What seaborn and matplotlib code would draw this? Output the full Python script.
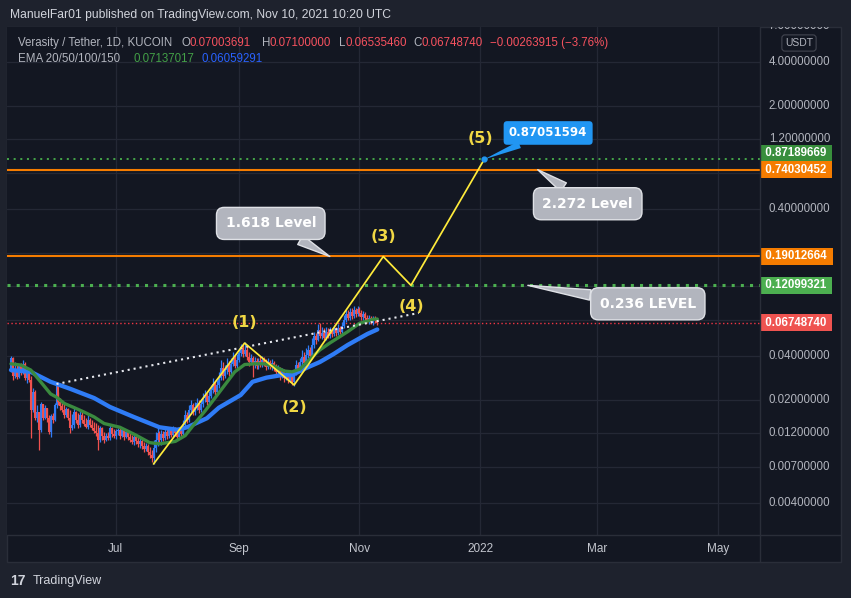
import numpy as np
import pandas as pd
import matplotlib
matplotlib.use("Agg")
import matplotlib.pyplot as plt
from matplotlib.ticker import FixedLocator, NullLocator
from matplotlib.patches import Rectangle
from matplotlib.lines import Line2D
import seaborn as sns

# === daily candles VRA/USDT (KuCoin) ===
start_date = "2021-05-09"
first_open = 0.0321
closes = [
    .03877, .02924, .03213, .02879, .03420, .03114, .03529, .02834, .03114, .02747,
    .01717, .02276, .01515, .01664, .01255, .01886, .01515, .01772, .01515, .01217,
    .01563, .01468, .01857, .02501, .01946, .01828, .01717, .01588, .01744, .01515,
    .01295, .01358, .01664, .01468, .01358, .01588, .01468, .01379, .01316, .01468,
    .01358, .01295, .01236, .01198, .01073, .01295, .01143, .01073, .01143, .01108,
    .01295, .01179, .01143, .01236, .01255, .01143, .01255, .01125, .01217, .01125,
    .01073, .01040, .01125, .01057, .01008, .01057, .00977, .00932, .00977, .00890,
    .00849, .00810, .00947, .01073, .01198, .01073, .01179, .01108, .01217, .01143,
    .01255, .01161, .01275, .01198, .01125, .01236, .01179, .01358, .01588, .01468,
    .01717, .01857, .01664, .01800, .01916, .01717, .01886, .02072, .02172, .01946,
    .02138, .02349, .02580, .02276, .02540, .02834, .03315, .02924, .03213, .03474,
    .03114, .03529, .03877, .03420, .03757, .04193, .04534, .04127, .04394, .03938,
    .03641, .03877, .03474, .03699, .03420, .03699, .03529, .03757, .03585, .03367,
    .03641, .03420, .03585, .03315, .03114, .03315, .02971, .03163, .02834, .03017,
    .02747, .02879, .02662, .03114, .03474, .03213, .03641, .03938, .03585, .04063,
    .04394, .04000, .04752, .05471, .05139, .06011, .05471, .05735, .05303, .05825,
    .05471, .05917, .05646, .06106, .05735, .06202, .05825, .06399, .07030, .07723,
    .07254, .07969, .07485, .08222, .07723, .08352, .07845, .07368, .07723, .07254,
    .06921, .07254, .06813, .07141, .07004, .06749,
]
highs = [
    .04000, .03938, .03641, .03474, .03529, .03585, .03757, .03641, .03315, .03213,
    .02924, .02423, .02349, .01857, .01664, .01946, .01886, .01857, .01772, .01588,
    .01613, .01638, .01916, .02621, .02276, .02072, .02008, .01946, .01800, .01772,
    .01717, .01613, .01772, .01690, .01638, .01717, .01664, .01588, .01515, .01588,
    .01515, .01468, .01423, .01401, .01358, .01336, .01316, .01217, .01198, .01217,
    .01358, .01316, .01275, .01275, .01295, .01295, .01295, .01275, .01275, .01255,
    .01198, .01161, .01179, .01161, .01125, .01108, .01090, .01040, .01024, .01008,
    .00962, .00918, .01073, .01217, .01295, .01236, .01255, .01236, .01295, .01275,
    .01316, .01295, .01336, .01316, .01255, .01295, .01275, .01468, .01717, .01664,
    .01857, .02008, .01916, .01946, .02072, .02008, .02040, .02241, .02349, .02241,
    .02312, .02540, .02834, .02704, .02747, .03114, .03757, .03641, .03474, .03877,
    .03699, .03877, .04259, .04063, .04127, .04534, .04827, .04752, .04981, .04678,
    .04259, .04127, .04000, .03938, .03877, .03877, .04000, .04000, .03938, .03816,
    .03877, .03757, .03816, .03699, .03529, .03474, .03367, .03315, .03263, .03213,
    .03114, .03065, .02971, .03213, .03757, .03641, .03877, .04394, .04259, .04534,
    .04752, .04606, .05303, .05825, .05735, .06603, .06707, .06300, .06202, .06300,
    .06202, .06300, .06202, .06500, .06300, .06603, .06399, .06813, .07603, .08222,
    .08222, .08484, .08484, .08754, .08484, .08754, .08618, .08222, .08094, .07969,
    .07603, .07603, .07485, .07485, .07485, .07100,
]
lows = [
    .03114, .02747, .02834, .02790, .02834, .02971, .03017, .02747, .02621, .02662,
    .01108, .01664, .01468, .01423, .00918, .01217, .01468, .01491, .01423, .01179,
    .01125, .01401, .01445, .01772, .01857, .01717, .01664, .01515, .01539, .01468,
    .01198, .01255, .01295, .01401, .01295, .01316, .01401, .01336, .01295, .01275,
    .01316, .01255, .01198, .01143, .00918, .01040, .01073, .01024, .01057, .01073,
    .01073, .01125, .01108, .01090, .01161, .01090, .01125, .01073, .01108, .01073,
    .01040, .01008, .00993, .01008, .00962, .00947, .00932, .00890, .00904, .00849,
    .00810, .00761, .00737, .00890, .00977, .01024, .00993, .01057, .01073, .01090,
    .01108, .01125, .01125, .01143, .01073, .01090, .01143, .01143, .01316, .01401,
    .01423, .01613, .01588, .01588, .01717, .01638, .01664, .01800, .01946, .01857,
    .01886, .02072, .02241, .02172, .02206, .02423, .02747, .02747, .02834, .03017,
    .02924, .02971, .03420, .03315, .03315, .03641, .04000, .03938, .04000, .03757,
    .03420, .03529, .02879, .03315, .03263, .03263, .03367, .03367, .03420, .03213,
    .03263, .03263, .03213, .03163, .02924, .02971, .02747, .02834, .02662, .02747,
    .02621, .02662, .02540, .02501, .02971, .03065, .03114, .03474, .03420, .03474,
    .03877, .03816, .03938, .04534, .04827, .05059, .05303, .05220, .05139, .05139,
    .05303, .05303, .05386, .05471, .05471, .05558, .05646, .05646, .06202, .06813,
    .07030, .07030, .07141, .07254, .07368, .07485, .07485, .07030, .07030, .06921,
    .06707, .06603, .06603, .06500, .06707, .06535,
]

# === EMA 20 (green) and EMA 50 (blue) ===
ema20_dates = ["2021-05-09", "2021-05-14", "2021-05-19", "2021-05-24", "2021-05-29",
               "2021-06-01", "2021-06-05", "2021-06-10", "2021-06-15", "2021-06-20",
               "2021-06-25", "2021-07-03", "2021-07-11", "2021-07-18", "2021-07-23",
               "2021-07-31", "2021-08-05", "2021-08-10", "2021-08-15", "2021-08-20",
               "2021-08-25", "2021-08-30", "2021-09-04", "2021-09-09", "2021-09-14",
               "2021-09-19", "2021-09-24", "2021-09-28", "2021-10-02", "2021-10-08",
               "2021-10-12", "2021-10-17", "2021-10-26", "2021-11-01", "2021-11-08",
               "2021-11-10"]
ema20_values = [0.0354, 0.0347, 0.0321, 0.0267, 0.0221, 0.0210, 0.0190, 0.0178, 0.0166,
                0.0154, 0.0139, 0.0131, 0.0116, 0.0103, 0.0101, 0.0105, 0.0115, 0.0140,
                0.0169, 0.0207, 0.0254, 0.0312, 0.0350, 0.0354, 0.0354, 0.0340, 0.0316,
                0.0312, 0.0326, 0.0393, 0.0440, 0.0490, 0.0585, 0.0667, 0.0711, 0.07137]
ema50_dates = ["2021-05-09", "2021-05-19", "2021-05-29", "2021-06-08", "2021-06-20",
               "2021-06-28", "2021-07-10", "2021-07-23", "2021-08-01", "2021-08-06",
               "2021-08-16", "2021-08-22", "2021-09-02", "2021-09-08", "2021-09-15",
               "2021-09-23", "2021-09-28", "2021-10-05", "2021-10-12", "2021-10-19",
               "2021-10-26", "2021-11-05", "2021-11-10"]
ema50_values = [0.0321, 0.0312, 0.0267, 0.0239, 0.0207, 0.0180, 0.0154, 0.0131, 0.0126,
                0.0131, 0.0151, 0.0178, 0.0217, 0.0267, 0.0285, 0.0297, 0.0297, 0.0331,
                0.0364, 0.0413, 0.0475, 0.0565, 0.06059]

# === Elliott wave drawing ===
wave_dates = ["2021-07-20", "2021-09-04", "2021-09-29", "2021-11-13", "2021-11-27", "2022-01-03"]
wave_prices = [0.00737, 0.0490, 0.0254, 0.190, 0.121, 0.87051594]
wave_labels = ["", "(1)", "(2)", "(3)", "(4)", "(5)"]
trend_dates = ["2021-06-01", "2021-12-01"]
trend_prices = [0.0258, 0.0785]

# === horizontal levels ===
orange_levels = [0.74030452, 0.19012664]
green_levels = [0.87189669, 0.12099321]
last_close = 0.06748740
ohlc_last = [0.07003691, 0.07100000, 0.06535460, 0.06748740]
change_last = [-0.00263915, -3.76]
ema_last = [0.07137017, 0.06059291]

price_ticks = [7, 4, 2, 1.2, 0.7, 0.4, 0.2, 0.12, 0.07, 0.04, 0.02, 0.012, 0.007, 0.004]
price_tick_labels = [7, 4, 2, 1.2, 0.4, 0.04, 0.02, 0.012, 0.007, 0.004]
month_ticks = ["2021-07-01", "2021-09-01", "2021-11-01", "2022-01-01", "2022-03-01", "2022-05-01"]
month_labels = ["Jul", "Sep", "Nov", "2022", "Mar", "May"]

# colours
BG_OUT = "#1e222d"
BG = "#131722"
GRID = "#242835"
TXT = "#b2b5be"
UP = "#2f7cf6"
DOWN = "#f0514f"
YELLOW = "#ffeb3b"

sns.set_theme(style="dark", rc={"axes.facecolor": BG, "figure.facecolor": BG_OUT})
plt.rcParams["font.family"] = ["Liberation Sans", "DejaVu Sans"]

W, H = 851, 598
fig = plt.figure(figsize=(W / 100, H / 100), dpi=100)


def fx(x):
    return x / W


def fy(y):
    return 1 - y / H


# chart panel (behind the axes)
fig.patches.append(Rectangle((fx(7), fy(562)), fx(841) - fx(7), fy(27) - fy(562),
                             transform=fig.transFigure, fc=BG, ec="#2a2e39", lw=1, zorder=-5))

ax = fig.add_axes([fx(7), fy(535), fx(760) - fx(7), fy(27) - fy(535)])
ax.set_yscale("log")
ax.set_ylim(0.002423, 6.92)
ax.set_xlim(pd.Timestamp("2021-05-07"), pd.Timestamp("2022-05-22 06:00"))
for s in ax.spines.values():
    s.set_visible(False)

ax.yaxis.set_major_locator(FixedLocator(price_ticks))
ax.yaxis.set_minor_locator(NullLocator())
ax.tick_params(axis="y", left=False, right=False, labelleft=False, labelright=False)
ax.set_xticks(pd.to_datetime(month_ticks))
ax.set_xticklabels(month_labels)
ax.tick_params(axis="x", length=0, pad=6, labelcolor="#c3c6ce", labelsize=8.5)
ax.grid(True, color=GRID, lw=0.9)

# --- candles ---
dates = pd.date_range(start_date, periods=len(closes), freq="D")
opens = [first_open] + closes[:-1]
candles = pd.DataFrame({"date": dates, "open": opens, "high": highs, "low": lows, "close": closes})
up = candles["close"] >= candles["open"]
for mask, col in [(up, UP), (~up, DOWN)]:
    sub = candles[mask]
    ax.vlines(sub["date"], sub["low"], sub["high"], color=col, lw=0.9, zorder=3)
    ax.vlines(sub["date"], sub["open"], sub["close"], color=col, lw=1.5, zorder=3)

# --- EMAs ---
sns.lineplot(x=pd.to_datetime(ema50_dates), y=ema50_values, ax=ax, color="#2f7cf6",
             lw=3.1, zorder=4)
sns.lineplot(x=pd.to_datetime(ema20_dates), y=ema20_values, ax=ax, color="#3a8a3f",
             lw=2.4, zorder=4)

# --- level lines ---
for v in orange_levels:
    ax.axhline(v, color="#f57c00", lw=1.5, zorder=2)
ax.axhline(green_levels[0], color="#43a047", lw=1.45, ls=(0, (1, 2.3)), zorder=2)
ax.axhline(green_levels[1], color="#4caf50", lw=2.2, ls=(0, (1, 2)), zorder=2)
ax.axhline(last_close, color="#f23645", lw=1.0, ls=(0, (1, 1.8)), zorder=2)

# --- trend line and wave ---
sns.lineplot(x=pd.to_datetime(trend_dates), y=trend_prices, ax=ax, color="#e6e8ee",
             lw=1.5, linestyle=(0, (1, 1.9)), zorder=5)
sns.lineplot(x=pd.to_datetime(wave_dates), y=wave_prices, ax=ax, color=YELLOW,
             lw=1.25, sort=False, zorder=6)
ax.set_xlabel("")
ax.set_ylabel("")
offsets = [(0, 0), (0, 15), (0, -16), (0, 14.5), (0, -15), (-3, 15)]
for d, p, lab, off in zip(wave_dates, wave_prices, wave_labels, offsets):
    if lab:
        ax.annotate(lab, xy=(pd.Timestamp(d), p), xytext=off, textcoords="offset points",
                    ha="center", va="center", color="#f0d744", fontsize=11.5,
                    fontweight="bold", family="DejaVu Sans", zorder=7)

# --- callouts ---
gray_box = dict(boxstyle="round,pad=0.65,rounding_size=0.55", fc="#b2b5be", ec="#dfe1e6", lw=1)
gray_arrow = dict(arrowstyle="wedge,tail_width=0.75,shrink_factor=0.5", fc="#b2b5be",
                  ec="#dfe1e6", lw=1, shrinkA=0, shrinkB=0)
callouts = [("1.618 Level", "2021-10-17", orange_levels[1], (-42.5, 23.8)),
            ("2.272 Level", "2022-01-30", orange_levels[0], (36, -24.5)),
            ("0.236 LEVEL", "2022-01-25", green_levels[1], (86.4, -13.3))]
for txt, d, p, off in callouts:
    ax.annotate(txt, xy=(pd.Timestamp(d), p), xytext=off, textcoords="offset points",
                ha="center", va="center", color="white", fontsize=10, fontweight="bold",
                family="DejaVu Sans", bbox=gray_box, arrowprops=gray_arrow, zorder=8)

ax.scatter([pd.Timestamp(wave_dates[-1])], [wave_prices[-1]], s=12, color="#2196f3", zorder=9)
ax.annotate(f"{wave_prices[-1]:.8f}", xy=(pd.Timestamp(wave_dates[-1]), wave_prices[-1]),
            xytext=(46, 19), textcoords="offset points", ha="center", va="center",
            color="white", fontsize=8.5, fontweight="bold", family="DejaVu Sans",
            bbox=dict(boxstyle="round,pad=0.45,rounding_size=0.3", fc="#2196f3", ec="none"),
            arrowprops=dict(arrowstyle="wedge,tail_width=0.6,shrink_factor=0.5",
                            fc="#2196f3", ec="none", shrinkA=0, shrinkB=0), zorder=9)

# --- price axis ---
pax = fig.add_axes([fx(760), fy(535), fx(841) - fx(760), fy(27) - fy(535)], sharey=ax)
pax.set_xlim(0, 1)
pax.axis("off")
for v in price_tick_labels:
    pax.text(0.11, v, f"{v:.8f}", color=TXT, fontsize=8.3, va="center", ha="left",
             clip_on=True)
level_tags = [(green_levels[0], "#388e3c", 4.3), (orange_levels[0], "#f57c00", 0),
              (orange_levels[1], "#f57c00", 0), (green_levels[1], "#4caf50", 0),
              (last_close, "#ef5350", 0)]
for v, col, dy in level_tags:
    pax.annotate(f" {v:.8f} ", xy=(0.03, v), xytext=(0, dy), textcoords="offset points",
                 color="white", fontsize=8.3, fontweight="bold", va="center", ha="left",
                 bbox=dict(boxstyle="square,pad=0.2", fc=col, ec="none"),
                 annotation_clip=False)
fig.text(fx(799), fy(43), "USDT", color=TXT, fontsize=7.5, ha="center", va="center",
         bbox=dict(boxstyle="round,pad=0.3", fc=BG, ec="#434651", lw=0.8))

# separators
fig.add_artist(Line2D([fx(7), fx(841)], [fy(535), fy(535)], color="#2a2e39", lw=1))
fig.add_artist(Line2D([fx(760), fx(760)], [fy(27), fy(562)], color="#2a2e39", lw=1))

# --- header / legend ---
fig.text(fx(10), fy(15), "ManuelFar01 published on TradingView.com, Nov 10, 2021 10:20 UTC",
         color="#d1d4dc", fontsize=8.7, va="center", ha="left")
RED_T = "#f7525f"
line1 = [("Verasity / Tether, 1D, KUCOIN", 18, TXT),
         ("O", 181, TXT), (f"{ohlc_last[0]:.8f}", 190, RED_T),
         ("H", 262, TXT), (f"{ohlc_last[1]:.8f}", 270, RED_T),
         ("L", 339, TXT), (f"{ohlc_last[2]:.8f}", 346, RED_T),
         ("C", 413, TXT), (f"{ohlc_last[3]:.8f}", 421, RED_T),
         (f"\u2212{abs(change_last[0]):.8f} (\u2212{abs(change_last[1]):.2f}%)", 490, RED_T)]
for t, x, c in line1:
    fig.text(fx(x), fy(43), t, color=c, fontsize=8.3, va="center", ha="left")
line2 = [("EMA 20/50/100/150", 18, TXT), (f"{ema_last[0]:.8f}", 133, "#43a047"),
         (f"{ema_last[1]:.8f}", 201, "#2962ff")]
for t, x, c in line2:
    fig.text(fx(x), fy(59), t, color=c, fontsize=8.3, va="center", ha="left")

# footer
fig.text(fx(10), fy(581), "17", color="#d1d4dc", fontsize=10, fontweight="heavy",
         va="center", ha="left")
fig.text(fx(33), fy(581), "TradingView", color="#d1d4dc", fontsize=9, va="center", ha="left")

fig.savefig("out.png", dpi=100, facecolor=BG_OUT)
